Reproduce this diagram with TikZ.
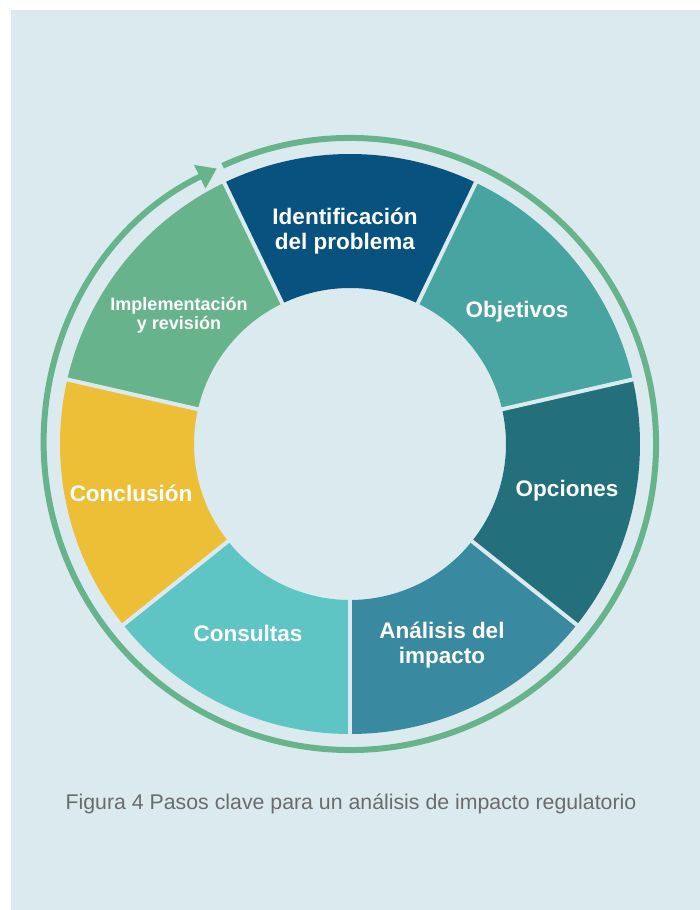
\documentclass[tikz,border=0pt]{standalone}
\usepackage{fontspec}
\setmainfont{Liberation Sans}
\usetikzlibrary{arrows.meta}
\definecolor{bgc}{HTML}{DAEAEF}
\definecolor{cid}{HTML}{07527E}
\definecolor{cobj}{HTML}{48A4A0}
\definecolor{copc}{HTML}{23707C}
\definecolor{cana}{HTML}{3989A0}
\definecolor{ccon}{HTML}{5EC4C4}
\definecolor{cclu}{HTML}{EDBF37}
\definecolor{cimp}{HTML}{67B48C}
\definecolor{capc}{HTML}{6B6B6B}
\tikzset{
  seglabel/.style={text=white, align=center, inner sep=0pt, font=\fontsize{22.5}{25}\selectfont\bfseries},
  smalllabel/.style={text=white, align=center, inner sep=0pt, font=\fontsize{18}{19}\selectfont\bfseries},
  gapline/.style={draw=bgc, line width=4pt},
  ringline/.style={draw=cimp, line width=6pt},
  captext/.style={text=capc, inner sep=0pt, font=\fontsize{21.3}{24}\selectfont}
}
\begin{document}
\begin{tikzpicture}[x=1pt,y=1pt]
\useasboundingbox (0,0) rectangle (700,910);
\fill[bgc] (11,0) rectangle (700,900);
\begin{scope}[shift={(350,466)}]
  \foreach \a/\b/\c in {64.29/115.71/cid, 12.86/64.29/cobj, -38.57/12.86/copc, -90/-38.57/cana, -141.43/-90/ccon, -192.86/-141.43/cclu, 115.71/167.14/cimp}{
    \fill[\c] (\a:290) arc[start angle=\a, end angle=\b, radius=290] -- (\b:156) arc[start angle=\b, end angle=\a, radius=156] -- cycle;
  }
  \foreach \a in {115.71, 64.29, 12.86, -38.57, -90, -141.43, 167.14}{
    \draw[gapline] (\a:150) -- (\a:296);
  }
  \coordinate (rs) at (114.6:306);
  \draw[ringline, -{Triangle[length=19pt,width=25pt]}] (rs) arc[start angle=114.6, end angle=-244.2, radius=306];
\end{scope}
\node[seglabel] (n1) at (345,679) {Identificación\\del problema};
\node[seglabel] (n2) at (517,598) {Objetivos};
\node[seglabel] (n3) at (567,419) {Opciones};
\node[seglabel] (n4) at (442,265) {Análisis del\\impacto};
\node[seglabel] (n5) at (248,277) {Consultas};
\node[seglabel] (n6) at (131,417) {Conclusión};
\node[smalllabel] (n7) at (179,595) {Implementación\\y revisión};
\node[captext] (cap) at (351,106) {Figura 4 Pasos clave para un análisis de impacto regulatorio};
\end{tikzpicture}
\end{document}
